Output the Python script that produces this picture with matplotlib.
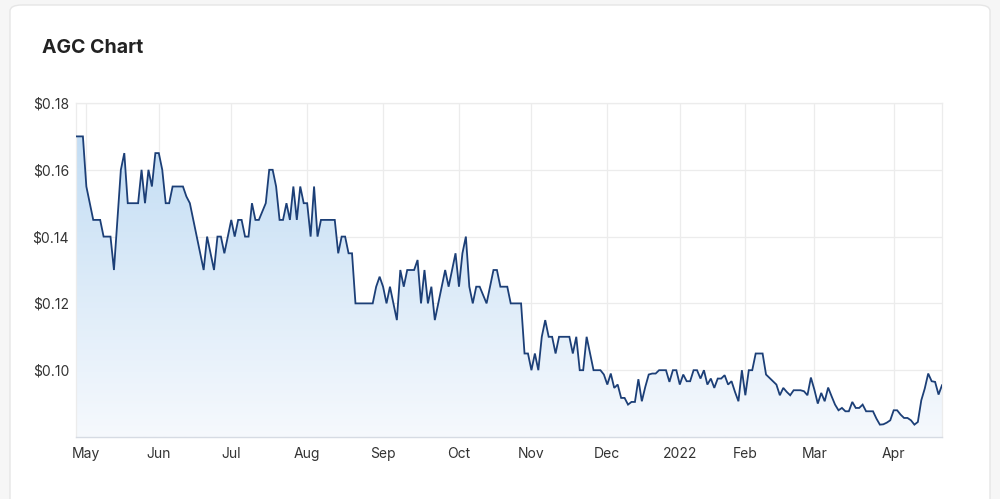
import matplotlib
matplotlib.use("Agg")
import matplotlib.pyplot as plt
import numpy as np
from matplotlib.patches import FancyBboxPatch, Polygon
from matplotlib.colors import LinearSegmentedColormap

# ---- data (one value per trading day, late Apr 2021 -> late Apr 2022) ----
prices = [
    0.17, 0.17, 0.17, 0.155, 0.15, 0.145, 0.145, 0.145, 0.14, 0.14,
    0.14, 0.13, 0.145, 0.16, 0.165, 0.15, 0.15, 0.15, 0.15, 0.16,
    0.15, 0.16, 0.155, 0.165, 0.165, 0.16, 0.15, 0.15, 0.155, 0.155,
    0.155, 0.155, 0.152, 0.15, 0.145, 0.14, 0.135, 0.13, 0.14, 0.135,
    0.13, 0.14, 0.14, 0.135, 0.14, 0.145, 0.14, 0.145, 0.145, 0.14,
    0.14, 0.15, 0.145, 0.145, 0.1475, 0.15, 0.16, 0.16, 0.155, 0.145,
    0.145, 0.15, 0.145, 0.155, 0.145, 0.155, 0.15, 0.15, 0.14, 0.155,
    0.14, 0.145, 0.145, 0.145, 0.145, 0.145, 0.135, 0.14, 0.14, 0.135,
    0.135, 0.12, 0.12, 0.12, 0.12, 0.12, 0.12, 0.125, 0.128, 0.125,
    0.12, 0.125, 0.12, 0.115, 0.13, 0.125, 0.13, 0.13, 0.13, 0.133,
    0.12, 0.13, 0.12, 0.125, 0.115, 0.12, 0.125, 0.13, 0.125, 0.13,
    0.135, 0.125, 0.135, 0.14, 0.125, 0.12, 0.125, 0.125, 0.1225, 0.12,
    0.125, 0.13, 0.13, 0.125, 0.125, 0.125, 0.12, 0.12, 0.12, 0.12,
    0.105, 0.105, 0.10, 0.105, 0.10, 0.11, 0.115, 0.11, 0.11, 0.105,
    0.11, 0.11, 0.11, 0.11, 0.105, 0.11, 0.10, 0.10, 0.11, 0.105,
    0.10, 0.10, 0.10, 0.0987, 0.0957, 0.099, 0.0947, 0.0957, 0.0917, 0.0917,
    0.0897, 0.0905, 0.0905, 0.0973, 0.0907, 0.095, 0.0987, 0.099, 0.099, 0.10,
    0.10, 0.10, 0.0965, 0.10, 0.10, 0.0957, 0.0987, 0.0967, 0.0967, 0.10,
    0.10, 0.0975, 0.10, 0.0957, 0.0975, 0.0947, 0.0975, 0.0975, 0.0985, 0.0957,
    0.0967, 0.0935, 0.0907, 0.10, 0.0925, 0.10, 0.10, 0.105, 0.105, 0.105,
    0.0987, 0.0977, 0.0967, 0.0957, 0.0925, 0.0947, 0.0935, 0.0925, 0.094, 0.094,
    0.094, 0.0937, 0.0925, 0.0978, 0.0942, 0.09, 0.0932, 0.0907, 0.0948, 0.0922,
    0.0897, 0.088, 0.0887, 0.0877, 0.0877, 0.0905, 0.0887, 0.0887, 0.0897, 0.0877,
    0.0877, 0.0877, 0.0855, 0.0837, 0.0838, 0.0843, 0.085, 0.088, 0.088, 0.0867,
    0.0857, 0.0857, 0.085, 0.0837, 0.0845, 0.091, 0.0945, 0.099, 0.0967, 0.0965,
    0.0927, 0.0955,
]
# index of first trading day of each month
month_tick_idx = [3, 24, 45, 67, 89, 111, 132, 154, 175, 194, 214, 237]
month_labels = ["May", "Jun", "Jul", "Aug", "Sep", "Oct", "Nov", "Dec",
                "2022", "Feb", "Mar", "Apr"]
y_ticks = [0.10, 0.12, 0.14, 0.16, 0.18]
title = "AGC Chart"

plt.rcParams['font.family'] = ['Inter', 'DejaVu Sans']

W, H = 1000, 499
fig = plt.figure(figsize=(W / 100, H / 100), dpi=100)
fig.patch.set_facecolor('#f6f6f6')

# card
card = FancyBboxPatch((10 / W, -0.1), 980 / W, (H - 5) / H + 0.1,
                      boxstyle="round,pad=0,rounding_size=0.012",
                      transform=fig.transFigure, facecolor='white',
                      edgecolor='#e6e6e6', linewidth=1.0, zorder=-10)
fig.patches.append(card)

fig.text(42 / W, 1 - 48 / H, title, fontsize=14, fontweight='bold',
         color='#222222', ha='left', va='center')

left, right, top, bottom = 76, 942, 103, 437
ax = fig.add_axes([left / W, 1 - bottom / H, (right - left) / W, (bottom - top) / H])
ax.set_facecolor('none')

x = np.arange(len(prices))
y = np.array(prices)
ymin, ymax = 0.08, 0.18

# gradient fill under the line
verts = [(x[0], ymin)] + list(zip(x, y)) + [(x[-1], ymin)]
poly = Polygon(verts, closed=True, facecolor='none', edgecolor='none')
ax.add_patch(poly)
cmap = LinearSegmentedColormap.from_list('g', ['#f6f9fd', '#bddaf3'])
grad = np.linspace(0, 1, 256).reshape(-1, 1)
im = ax.imshow(grad, extent=[x[0], x[-1], ymin, ymax], origin='lower',
               cmap=cmap, aspect='auto', zorder=1, interpolation='bilinear')
im.set_clip_path(poly)

ax.plot(x, y, color='#1c3f77', linewidth=1.3, zorder=3, solid_joinstyle='miter')

ax.set_xlim(x[0], x[-1])
ax.set_ylim(ymin, ymax)
ax.set_xticks(month_tick_idx)
ax.set_xticklabels(month_labels)
ax.set_yticks(y_ticks)
ax.set_yticklabels([f"${v:.2f}" for v in y_ticks])
ax.grid(True, color='#ececec', linewidth=0.9, zorder=0)
ax.set_axisbelow(True)
ax.tick_params(axis='both', length=0, labelsize=10, labelcolor='#333333')
ax.tick_params(axis='x', pad=7)
ax.tick_params(axis='y', pad=5)
for s in ['left', 'right', 'top']:
    ax.spines[s].set_color('#ececec')
    ax.spines[s].set_linewidth(0.9)
ax.spines['bottom'].set_color('#d6dbe3')
ax.spines['bottom'].set_linewidth(1.0)

fig.savefig('out.png', dpi=100, facecolor=fig.get_facecolor())
